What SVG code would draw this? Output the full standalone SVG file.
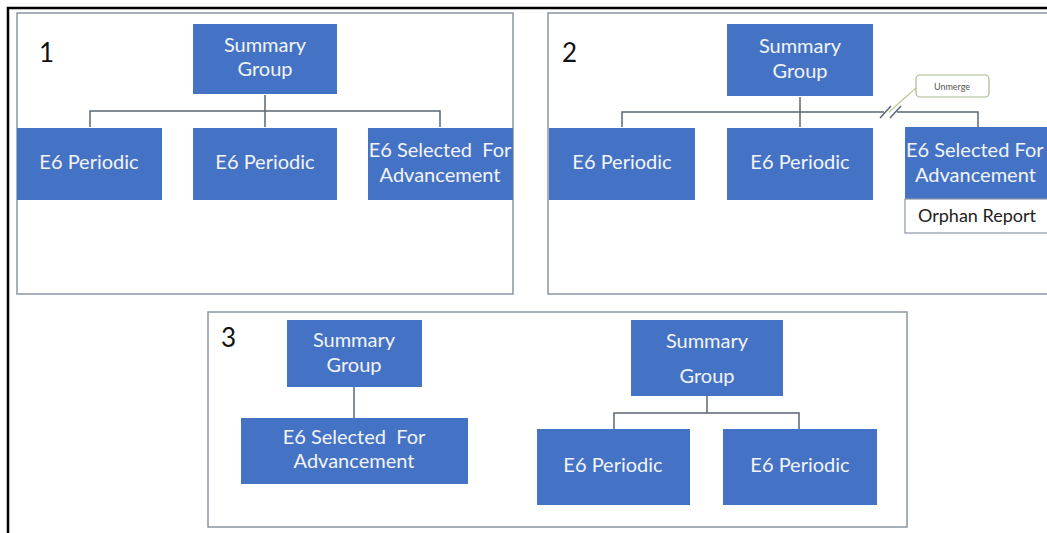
<svg xmlns="http://www.w3.org/2000/svg" width="1047" height="533" viewBox="0 0 1047 533">
<style>
.panel{fill:#ffffff;stroke:#8a96a3;stroke-width:1.5}
.box{fill:#4472c4}
.t{font-family:Lato,"Open Sans",sans-serif;font-size:20px;fill:#f2f4f8;text-anchor:middle;white-space:pre}
.ts{text-anchor:start}
.num{font-family:Lato,"Open Sans",sans-serif;font-size:26px;fill:#111111}
.conn{fill:none;stroke:#5b6673;stroke-width:1.5}
.dark{font-family:Lato,"Open Sans",sans-serif;font-size:18px;fill:#222222}
</style>
<rect x="0" y="0" width="1047" height="533" fill="#ffffff"/>
<path d="M8 533 V8 H1047" fill="none" stroke="#000000" stroke-width="2.5"/>

<g id="panel1">
<rect class="panel" x="17" y="13" width="496" height="281"/>
<text class="num" x="39" y="62">1</text>
</g>
<g id="panel2">
<rect class="panel" x="548" y="13" width="510" height="281"/>
<text class="num" x="562" y="62">2</text>
</g>
<g id="panel3">
<rect class="panel" x="208" y="312" width="699" height="215"/>
<text class="num" x="221" y="347">3</text>
</g>

<g id="connectors">
<path class="conn" d="M265 95 V127 M90 127 V111 H440 V127"/>
<path class="conn" d="M800 97 V127 M622 127 V112 H884 M897 112 H978 V127"/>
<path class="conn" d="M880 118 L891 106 M890 118 L901 106"/>
<path d="M916 88 L889 112" fill="none" stroke="#b8c79a" stroke-width="1.2"/>
<path class="conn" d="M354 387 V418"/>
<path class="conn" d="M707 396 V413 M614 429 V413 H799 V429"/>
</g>

<g id="p1-summary"><rect class="box" x="193" y="24" width="144" height="70"/><text class="t" x="265" y="52">Summary</text><text class="t" x="265" y="76">Group</text></g>
<g id="p1-periodic1"><rect class="box" x="17" y="128" width="145" height="72"/><text class="t" x="89" y="169">E6 Periodic</text></g>
<g id="p1-periodic2"><rect class="box" x="193" y="128" width="144" height="72"/><text class="t" x="265" y="169">E6 Periodic</text></g>
<g id="p1-selected"><rect class="box" x="368" y="128" width="145" height="72"/><text class="t" x="440" y="157">E6 Selected  For</text><text class="t" x="440" y="182">Advancement</text></g>

<g id="p2-summary"><rect class="box" x="727" y="24" width="146" height="72"/><text class="t" x="800" y="53">Summary</text><text class="t" x="800" y="78">Group</text></g>
<g id="p2-periodic1"><rect class="box" x="549" y="128" width="146" height="72"/><text class="t" x="622" y="169">E6 Periodic</text></g>
<g id="p2-periodic2"><rect class="box" x="727" y="128" width="146" height="72"/><text class="t" x="800" y="169">E6 Periodic</text></g>
<g id="p2-selected"><rect class="box" x="905" y="127" width="150" height="72"/><text class="t ts" x="906" y="157">E6 Selected For</text><text class="t ts" x="915" y="182">Advancement</text></g>
<g id="p2-orphan"><rect x="905" y="199" width="150" height="34" fill="#ffffff" stroke="#8a96a3" stroke-width="1.2"/><text class="dark" x="918" y="222">Orphan Report</text></g>
<g id="p2-unmerge"><rect x="916" y="75" width="73" height="22" rx="4" fill="#ffffff" stroke="#a9bb8c" stroke-width="1.2"/><text x="952" y="89.5" font-family="Lato,'Open Sans',sans-serif" font-size="9" fill="#555555" text-anchor="middle">Unmerge</text></g>

<g id="p3-summary1"><rect class="box" x="287" y="320" width="135" height="67"/><text class="t" x="354" y="347">Summary</text><text class="t" x="354" y="372">Group</text></g>
<g id="p3-selected"><rect class="box" x="241" y="418" width="227" height="66"/><text class="t" x="354" y="444">E6 Selected  For</text><text class="t" x="354" y="468">Advancement</text></g>
<g id="p3-summary2"><rect class="box" x="631" y="320" width="152" height="76"/><text class="t" x="707" y="348">Summary</text><text class="t" x="707" y="383">Group</text></g>
<g id="p3-periodic1"><rect class="box" x="537" y="429" width="153" height="76"/><text class="t" x="613" y="472">E6 Periodic</text></g>
<g id="p3-periodic2"><rect class="box" x="723" y="429" width="154" height="76"/><text class="t" x="800" y="472">E6 Periodic</text></g>
</svg>
